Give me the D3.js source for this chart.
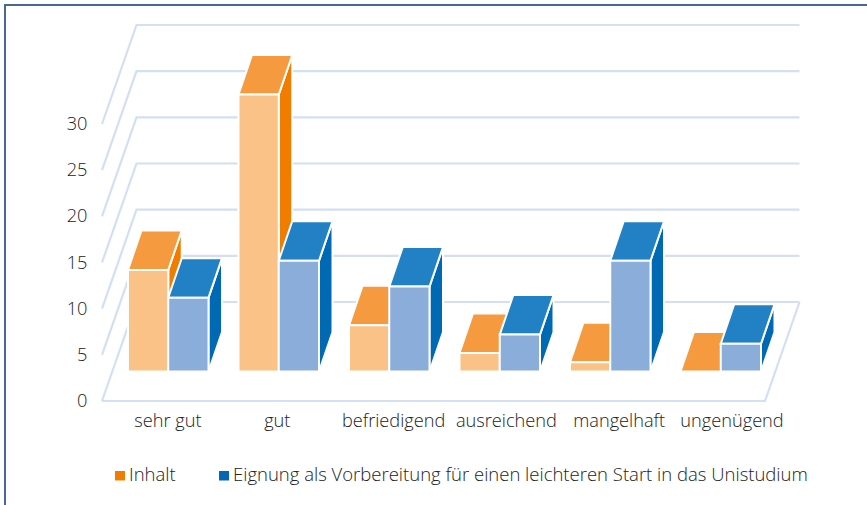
<!DOCTYPE html>
<html><head><meta charset="utf-8">
<script src="https://cdn.jsdelivr.net/npm/d3@7"></script>
<style>html,body{margin:0;padding:0;background:#fff}svg{display:block}
text{font-family:"Open Sans",sans-serif;font-weight:300;fill:#222}</style></head>
<body><div id="chart"></div>
<script>
const categories = ["sehr gut","gut","befriedigend","ausreichend","mangelhaft","ungenügend"];
const seriesNames = ["Inhalt","Eignung als Vorbereitung für einen leichteren Start in das Unistudium"];
const inhalt = [11,30,5,2,1,0];
const eignung = [8,12,9.2,4,12,3];
const yTicks = [0,5,10,15,20,25,30];
const colors = [
  {front:"#fbc287",top:"#f59a3f",side:"#f07d00"},
  {front:"#8badda",top:"#2281c5",side:"#0069b4"}
];
const W=867,H=505;
const svg=d3.select("#chart").append("svg").attr("width",W).attr("height",H);

// frame
svg.append("path").attr("d","M5,505V5H867").attr("fill","none").attr("stroke","#456a8f").attr("stroke-width",2);

// scales
const yAxis=d3.scaleLinear().domain([0,30]).range([401,124]);
const yBar=d3.scaleLinear().domain([0,30]).range([371.5,94.5]);
const x=d3.scaleBand().domain(categories).range([112.75,775.75]);
const xLabel=d3.scalePoint().domain(categories).range([168,732]);
const xs=d3.scaleBand().domain([0,1]).range([0,80.5]);
const floorD={dx:34.5,dy:-99};
const barD={dx:13.5,dy:-39.5};
const xL=102,xR=765;

// grid
const grid=svg.append("g").attr("fill","none").attr("stroke","#d3dff3").attr("stroke-width",2.2);
yTicks.forEach(t=>{
  const y0=yAxis(t);
  grid.append("path").attr("d",`M${xL},${y0}L${xL+floorD.dx},${y0+floorD.dy}H${xR+floorD.dx}`);
});
grid.append("path").attr("d",`M${xL},${yAxis(0)}H${xR}L${xR+floorD.dx},${yAxis(0)+floorD.dy}`);

// tick labels
svg.append("g").selectAll("text").data(yTicks).join("text")
  .attr("x",87.5).attr("y",d=>yAxis(d)+6).attr("text-anchor","end").attr("font-size",18.2).text(d=>d);
svg.append("g").selectAll("text").data(categories).join("text")
  .attr("x",d=>xLabel(d)).attr("dx",d=>d==="gut"?-3.5:0).attr("y",427).attr("text-anchor","middle").attr("font-size",18.2).text(d=>d);

// bars
const bars=svg.append("g").attr("stroke","#fff").attr("stroke-width",2).attr("stroke-linejoin","miter");
const poly=(g,pts,fill)=>g.append("polygon").attr("points",pts.map(p=>p.join(",")).join(" ")).attr("fill",fill);
categories.forEach((c,i)=>{
  [inhalt[i],eignung[i]].forEach((v,s)=>{
    const col=colors[s], x0=x(c)+x.bandwidth()/2-40+xs(s), x1=x0+xs.bandwidth();
    const yT=yBar(v), yB=yBar(0), dx=barD.dx, dy=barD.dy;
    poly(bars,[[x1,yT],[x1+dx,yT+dy],[x1+dx,yB+dy],[x1,yB]],col.side);
    poly(bars,[[x0,yT],[x0+dx,yT+dy],[x1+dx,yT+dy],[x1,yT]],col.top);
    if(v>0) poly(bars,[[x0,yT],[x1,yT],[x1,yB],[x0,yB]],col.front);
  });
});

// legend
const legX=[115,219], legT=[129,233];
const leg=svg.append("g");
seriesNames.forEach((n,i)=>{
  leg.append("rect").attr("x",legX[i]).attr("y",471).attr("width",10).attr("height",10).attr("fill",colors[i].side);
  leg.append("rect").attr("x",legX[i]).attr("y",480).attr("width",10).attr("height",1).attr("fill",colors[i].front);
  leg.append("text").attr("x",legT[i]).attr("y",481).attr("font-size",18.5).text(n);
});
</script></body></html>
